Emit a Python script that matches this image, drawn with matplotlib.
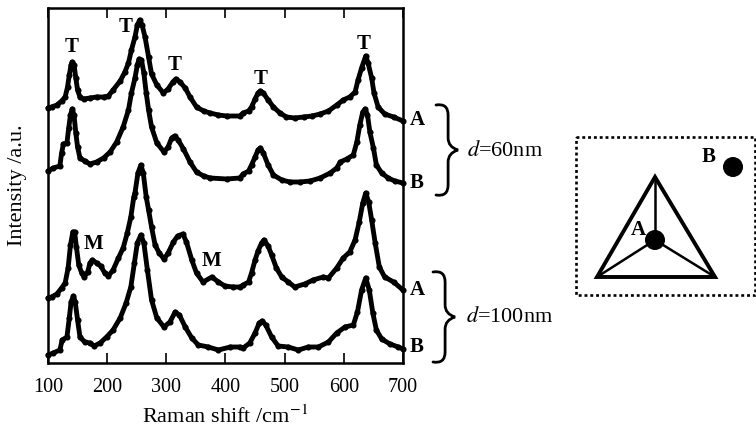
import matplotlib
matplotlib.use('Agg')
import matplotlib.pyplot as plt
from matplotlib.path import Path
from matplotlib.patches import PathPatch, Rectangle, Polygon, Circle

plt.rcParams['font.family'] = ['Liberation Serif', 'DejaVu Serif']
plt.rcParams['mathtext.fontset'] = 'stix'

# Data (intensity in arbitrary units)
shift_60a = [100, 106, 115, 123, 129, 133, 136, 139, 141, 144, 147, 150, 154, 160, 171, 182, 194, 202, 210, 222,
             230, 236, 241, 247, 251, 255, 259, 264, 270, 275, 284, 295, 303, 311, 316, 323, 332, 340, 351, 363,
             374, 388, 402, 424, 430, 439, 444, 450, 455, 459, 464, 472, 481, 492, 503, 517, 532, 546, 560, 574,
             588, 599, 610, 619, 624, 630, 637, 641, 647, 651, 658, 669, 684, 700]
int_60a = [255, 256, 258, 262, 266, 276, 288, 298, 301, 298, 285, 273, 266, 264, 265, 266, 266, 267, 273, 282,
           291, 300, 313, 326, 338, 343, 338, 326, 306, 289, 278, 270, 274, 281, 284, 281, 275, 266, 256, 252,
           250, 248, 247, 247, 250, 252, 256, 264, 270, 272, 270, 263, 256, 250, 246, 245, 246, 247, 249, 252,
           258, 263, 266, 271, 283, 295, 307, 300, 285, 270, 256, 249, 246, 242]

shift_60b = [100, 109, 120, 123, 126, 132, 135, 138, 141, 144, 147, 150, 154, 162, 171, 182, 194, 205, 216, 227,
             236, 241, 247, 251, 254, 258, 262, 266, 270, 275, 284, 296, 303, 309, 314, 320, 329, 340, 351, 363,
             374, 402, 424, 430, 439, 444, 450, 455, 459, 464, 472, 481, 495, 509, 526, 543, 560, 577, 588, 594,
             605, 616, 622, 627, 632, 636, 640, 644, 650, 655, 664, 675, 686, 700]
int_60b = [192, 195, 197, 210, 219, 220, 235, 248, 254, 248, 230, 216, 205, 202, 199, 201, 205, 211, 221, 236,
           253, 270, 285, 298, 304, 303, 290, 270, 253, 236, 220, 211, 216, 225, 227, 223, 214, 201, 191, 187,
           185, 184, 185, 189, 192, 198, 206, 213, 215, 210, 198, 188, 183, 181, 181, 182, 185, 190, 195, 201,
           204, 208, 221, 238, 251, 254, 248, 231, 215, 198, 190, 185, 182, 180]

shift_100a = [100, 106, 115, 123, 129, 134, 138, 142, 145, 148, 152, 157, 161, 167, 171, 175, 182, 189, 196, 202,
              210, 219, 227, 234, 240, 245, 247, 252, 257, 261, 266, 270, 275, 281, 288, 296, 303, 312, 319, 328,
              334, 343, 351, 362, 377, 388, 399, 413, 424, 430, 439, 444, 450, 455, 461, 465, 472, 478, 486, 495,
              506, 517, 534, 548, 565, 574, 588, 599, 610, 619, 626, 632, 637, 642, 647, 653, 660, 669, 684, 700]
int_100a = [65, 66, 69, 75, 80, 95, 118, 131, 131, 116, 98, 90, 86, 91, 100, 103, 100, 97, 90, 87,
            93, 105, 115, 130, 146, 166, 170, 190, 198, 190, 166, 153, 136, 118, 110, 104, 110, 121, 127, 129,
            121, 103, 90, 81, 86, 81, 77, 76, 76, 78, 81, 90, 103, 112, 120, 123, 117, 108, 95, 86,
            81, 76, 79, 83, 86, 85, 95, 105, 111, 123, 141, 160, 170, 161, 143, 120, 96, 86, 81, 73]

shift_100b = [100, 109, 120, 124, 132, 136, 139, 143, 146, 150, 154, 162, 171, 178, 188, 199, 210, 222, 232, 240,
              246, 251, 257, 262, 268, 275, 284, 296, 306, 315, 322, 332, 343, 354, 371, 388, 408, 424, 430, 441,
              450, 457, 462, 468, 478, 489, 506, 523, 540, 557, 574, 588, 602, 616, 623, 630, 637, 643, 649, 655,
              664, 678, 692, 700]
int_100b = [8, 10, 13, 23, 26, 45, 61, 67, 61, 43, 26, 21, 20, 17, 20, 26, 33, 45, 60, 76,
            100, 120, 128, 120, 93, 63, 45, 36, 41, 51, 48, 36, 25, 18, 16, 13, 16, 16, 15, 20,
            30, 40, 42, 38, 26, 17, 16, 13, 16, 16, 21, 30, 36, 38, 51, 73, 85, 73, 50, 33,
            24, 19, 16, 14]

xticks = [100, 200, 300, 400, 500, 600, 700]

W, H = 756, 433
fig = plt.figure(figsize=(W / 100, H / 100), dpi=100)
ax = fig.add_axes([48 / W, (H - 363) / H, 355 / W, 355 / H])

for xs, ys in [(shift_60a, int_60a), (shift_60b, int_60b), (shift_100a, int_100a), (shift_100b, int_100b)]:
    ax.plot(xs, ys, color='black', lw=3.5, marker='o', ms=4.4, mew=0, solid_capstyle='round',
            solid_joinstyle='round', clip_on=False, zorder=3)

ax.set_xlim(100, 700)
ax.set_ylim(0, 355)
ax.set_xticks(xticks)
ax.set_yticks([])
ax.tick_params(axis='x', direction='in', length=7.5, width=1.2, top=True, labelsize=14.5, pad=11)
for s in ax.spines.values():
    s.set_linewidth(1.8)
ax.set_xlabel('Raman shift /cm$^{-1}$', fontsize=16, labelpad=6)
ax.set_ylabel('Intensity /a.u.', fontsize=16, labelpad=15)

# Overlay in pixel coordinates for labels, braces and the inset sketch
ov = fig.add_axes([0, 0, 1, 1])
ov.set_xlim(0, W)
ov.set_ylim(H, 0)
ov.axis('off')
ov.patch.set_alpha(0)

for x, y, s in [(72, 47, 'T'), (126, 27, 'T'), (175, 65, 'T'), (261, 79, 'T'), (364, 44, 'T'),
                (93, 244, 'M'), (211, 261, 'M'),
                (417, 120, 'A'), (417, 183, 'B'), (417, 290, 'A'), (417, 347, 'B'),
                (709, 157, 'B'), (638, 230, 'A')]:
    ov.text(x, y, s, fontsize=15, fontweight='bold', ha='center', va='center')


def brace(x0, x1, top, bottom):
    mid = (top + bottom) / 2
    xm = x0 + (x1 - x0) * 0.55
    verts = [(x0, top), (xm, top - 2), (xm, top + 10), (xm, mid - 12), (xm, mid - 3), (x1, mid),
             (xm, mid + 3), (xm, mid + 12), (xm, bottom - 10), (xm, bottom + 2), (x0, bottom)]
    codes = [Path.MOVETO, Path.CURVE3, Path.CURVE3, Path.LINETO, Path.CURVE3, Path.CURVE3,
             Path.CURVE3, Path.CURVE3, Path.LINETO, Path.CURVE3, Path.CURVE3]
    ov.add_patch(PathPatch(Path(verts, codes), fill=False, lw=2.0, color='black', capstyle='round'))


brace(436, 458, 105, 195)
brace(433, 455, 272, 362)
ov.text(467, 151, '$\\mathit{d}$=60nm', fontsize=16, va='center')
ov.text(466, 317, '$\\mathit{d}$=100nm', fontsize=16, va='center')

# Inset sketch
ov.add_patch(Rectangle((576, 137), 179, 158, fill=False, lw=1.9, ls=(0, (1.1, 1.1)), color='black'))
apex, left, right, centre = (655, 177), (597, 277), (715, 277), (655, 240)
ov.add_patch(Polygon([apex, left, right], closed=True, fill=False, lw=2.8, color='black', joinstyle='miter'))
for p in (apex, left, right):
    ov.plot([p[0], centre[0]], [p[1], centre[1]], color='black', lw=1.8)
ov.add_patch(Circle(centre, 9.3, color='black', zorder=4))
ov.add_patch(Circle((733, 167), 9.3, color='black', zorder=4))

fig.savefig('out.png', dpi=100)
